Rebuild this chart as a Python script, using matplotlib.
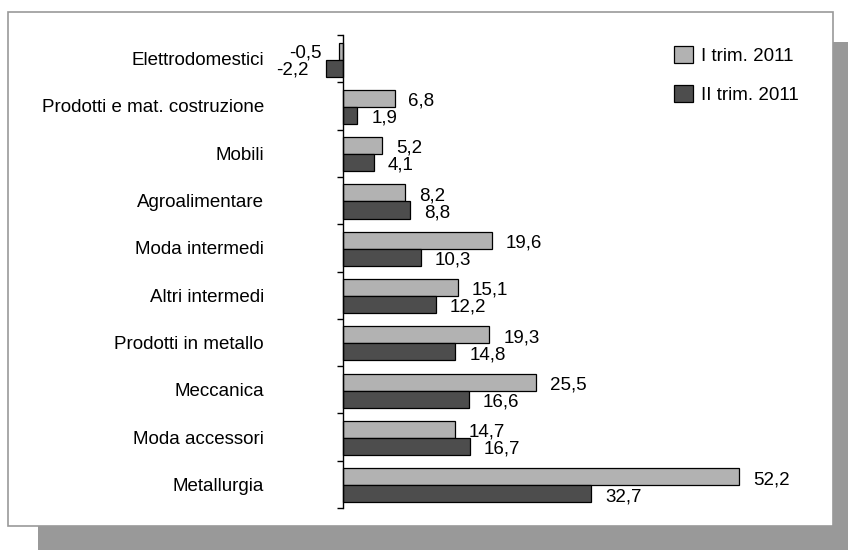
import numpy as np
import matplotlib
matplotlib.use('Agg')
import matplotlib.pyplot as plt
from matplotlib.patches import Rectangle

plt.rcParams['font.family'] = ['Liberation Sans', 'DejaVu Sans']

# settori, dall'alto verso il basso
settori = ['Elettrodomestici', 'Prodotti e mat. costruzione', 'Mobili',
           'Agroalimentare', 'Moda intermedi', 'Altri intermedi',
           'Prodotti in metallo', 'Meccanica', 'Moda accessori', 'Metallurgia']
trim1 = [-0.5, 6.8, 5.2, 8.2, 19.6, 15.1, 19.3, 25.5, 14.7, 52.2]
trim2 = [-2.2, 1.9, 4.1, 8.8, 10.3, 12.2, 14.8, 16.6, 16.7, 32.7]
serie = ['I trim. 2011', 'II trim. 2011']

FS = 13.5
W, H = 848, 550
fig = plt.figure(figsize=(W / 100, H / 100), dpi=100)
fig.patch.set_facecolor('white')

# ombra e riquadro bianco
fig.patches.append(Rectangle((38 / W, 0), 810 / W, (550 - 42) / H,
                             transform=fig.transFigure, facecolor='#999999',
                             edgecolor='none', zorder=0))
fig.patches.append(Rectangle((8 / W, (550 - 526) / H), 825 / W, 514 / H,
                             transform=fig.transFigure, facecolor='white',
                             edgecolor='#999999', linewidth=1.2, zorder=1))

xmin, xmax = -5, 60
ppu = 7.586
ax = fig.add_axes([(343 + xmin * ppu) / W, (550 - 508) / H,
                   (xmax - xmin) * ppu / W, 473 / H])
ax.set_facecolor('none')
ax.set_zorder(2)

y = np.arange(len(settori))
h = 0.36
c1, c2 = '#b2b2b2', '#4d4d4d'
ax.barh(y - h / 2 + 0.02, trim1, height=h, color=c1, edgecolor='black',
        linewidth=0.9, label=serie[0])
ax.barh(y + h / 2 + 0.02, trim2, height=h, color=c2, edgecolor='black',
        linewidth=0.9, label=serie[1])

def etichetta(v, yy):
    s = f'{v:.1f}'.replace('.', ',')
    if v >= 0:
        ax.annotate(s, (v, yy), xytext=(10, -2), textcoords='offset points',
                    ha='left', va='center', fontsize=FS)
    else:
        ax.annotate(s, (v, yy), xytext=(-12.5, -1.5), textcoords='offset points',
                    ha='right', va='center', fontsize=FS)

for i in range(len(settori)):
    etichetta(trim1[i], y[i] - h / 2 + 0.02)
    etichetta(trim2[i], y[i] + h / 2 + 0.02)

ax.set_xlim(xmin, xmax)
ax.set_ylim(len(settori) - 0.5, -0.5)
for s in ['top', 'right', 'bottom']:
    ax.spines[s].set_visible(False)
ax.spines['left'].set_position(('data', 0))
ax.spines['left'].set_linewidth(1)
ax.set_xticks([])
ax.set_yticks(y)
ax.set_yticklabels(settori, fontsize=FS)
ax.tick_params(axis='y', which='major', length=0, pad=57)
ax.set_yticks(np.arange(-0.5, len(settori), 1), minor=True)
ax.tick_params(axis='y', which='minor', length=4.5, width=1, direction='out')

ax.legend(loc='upper left', bbox_to_anchor=(665 / W, 1 - 37 / H),
          bbox_transform=fig.transFigure, frameon=False, fontsize=FS,
          handlelength=1.0, handleheight=1.0, labelspacing=1.07,
          handletextpad=0.43, borderpad=0)

fig.savefig('out.png', dpi=100)
